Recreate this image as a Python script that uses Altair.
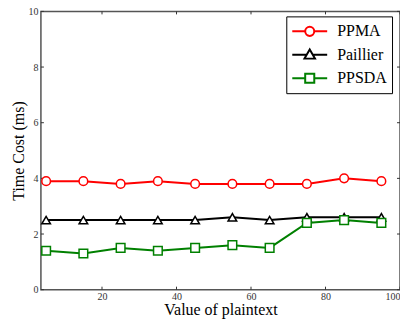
import altair as alt
import pandas as pd

x_vals = [5, 15, 25, 35, 45, 55, 65, 75, 85, 95]
ppma = [3.9, 3.9, 3.8, 3.9, 3.8, 3.8, 3.8, 3.8, 4.0, 3.9]
paillier = [2.5, 2.5, 2.5, 2.5, 2.5, 2.6, 2.5, 2.6, 2.6, 2.6]
ppsda = [1.4, 1.3, 1.5, 1.4, 1.5, 1.6, 1.5, 2.4, 2.5, 2.4]
series_names = ["PPMA", "Paillier", "PPSDA"]
series_colors = ["#ff0000", "#000000", "#008000"]
x_ticks = [20, 40, 60, 80, 100]
y_ticks = [0, 2, 4, 6, 8, 10]

rows = []
for name, vals in zip(series_names, [ppma, paillier, ppsda]):
    for xv, yv in zip(x_vals, vals):
        rows.append({"x": xv, "y": yv, "series": name})
df = pd.DataFrame(rows)

W, H = 360, 279
FONT = "Liberation Serif"

xs = alt.Scale(domain=[3.6, 100], nice=False, zero=False)
ys = alt.Scale(domain=[0, 10], nice=False)
cs = alt.Scale(domain=series_names, range=series_colors)

xaxis = alt.Axis(values=x_ticks, tickSize=0, domain=False, grid=False, labelFont=FONT,
                 labelFontSize=10, labelColor="#333", labelPadding=2,
                 titleFont=FONT, titleFontSize=16, titleFontWeight="normal", titlePadding=0,
                 titleColor="black")
yaxis = alt.Axis(values=y_ticks, tickSize=0, domain=False, grid=False, labelFont=FONT,
                 labelFontSize=10, labelColor="#333", labelPadding=3,
                 titleFont=FONT, titleFontSize=16, titleFontWeight="normal", titlePadding=1,
                 titleColor="black")

base = alt.Chart(df)
lines = base.mark_line(strokeWidth=2).encode(
    x=alt.X("x:Q", scale=xs, axis=xaxis, title="Value of plaintext"),
    y=alt.Y("y:Q", scale=ys, axis=yaxis, title="Time Cost (ms)"),
    color=alt.Color("series:N", scale=cs, legend=None),
)
points = base.mark_point(filled=False, fill="white", fillOpacity=1, opacity=1, strokeWidth=1.5, size=75).encode(
    x=alt.X("x:Q", scale=xs),
    y=alt.Y("y:Q", scale=ys),
    color=alt.Color("series:N", scale=cs, legend=None),
    shape=alt.Shape("series:N", scale=alt.Scale(domain=series_names,
                    range=["circle", "triangle-up", "square"]), legend=None),
)

r = 0.26
circ = f"M-1,0H-{r}M{r},0H1M-{r},0A{r},{r},0,1,0,{r},0A{r},{r},0,1,0,-{r},0"
tri = "M-1,0H-0.2M0.2,0H1M-0.3,0.22L0.3,0.22L0,-0.3Z"
sq = f"M-1,0H-{r}M{r},0H1M-{r},-{r}H{r}V{r}H-{r}Z"

leg = alt.Legend(
    orient="none", legendX=246, legendY=5, symbolSize=1225, symbolStrokeWidth=2,
    labelFont=FONT, labelFontSize=16, labelOffset=9, strokeColor="black",
    fillColor="white", padding=5, rowPadding=3.5, clipHeight=20, labelColor="black")

legend_layer = base.transform_filter("false").mark_point(filled=False, strokeWidth=2, opacity=1).encode(
    x=alt.X("x:Q", scale=xs),
    y=alt.Y("y:Q", scale=ys),
    color=alt.Color("series:N", scale=cs, title=None, legend=leg),
    shape=alt.Shape("series:N", title=None, legend=leg,
                    scale=alt.Scale(domain=series_names, range=[circ, tri, sq])),
)

tick_df = pd.DataFrame({"t": x_ticks})
ytick_df = pd.DataFrame({"t": y_ticks})
xt_bottom = alt.Chart(tick_df).mark_rule(color="#333", strokeWidth=1).encode(
    x=alt.X("t:Q", scale=xs), y=alt.value(H), y2=alt.value(H - 3))
xt_top = alt.Chart(tick_df).mark_rule(color="#333", strokeWidth=1).encode(
    x=alt.X("t:Q", scale=xs), y=alt.value(0), y2=alt.value(3))
yt_left = alt.Chart(ytick_df).mark_rule(color="#333", strokeWidth=1).encode(
    y=alt.Y("t:Q", scale=ys), x=alt.value(0), x2=alt.value(3))
yt_right = alt.Chart(ytick_df).mark_rule(color="#333", strokeWidth=1).encode(
    y=alt.Y("t:Q", scale=ys), x=alt.value(W), x2=alt.value(W - 3))

chart = alt.layer(xt_bottom, xt_top, yt_left, yt_right, lines, points, legend_layer).resolve_scale(
    color="independent", shape="independent"
).properties(
    width=W, height=H,
    autosize=alt.AutoSizeParams(type="none"),
    padding={"left": 33, "top": 3, "right": 0, "bottom": 34},
    background="white",
).configure(font=FONT
).configure_view(stroke="#555", strokeWidth=1.5
).configure_axis(labelFont=FONT, titleFont=FONT
).configure_legend(labelFont=FONT)

chart.save("out.html", embed_options={"renderer": "svg", "actions": False})
